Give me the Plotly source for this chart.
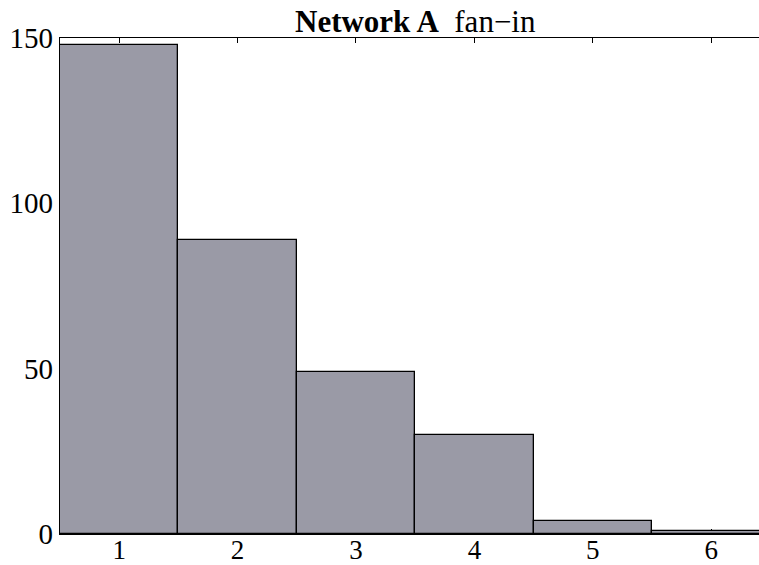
import plotly.graph_objects as go

categories = [1, 2, 3, 4, 5, 6]
counts = [148, 89, 49, 30, 4, 1]
y_ticks = [0, 50, 100, 150]
title_bold = "Network A"
title_rest = "fan\u2212in"

FONT = "Liberation Serif, Times New Roman, serif"
FS = 29

fig = go.Figure()
fig.add_trace(go.Bar(
    x=categories, y=counts, width=1,
    marker=dict(color="#9a9aa6", line=dict(color="black", width=1.3)),
    showlegend=False,
))

fig.update_layout(
    width=759, height=565,
    margin=dict(l=60, r=0, t=38, b=31),
    paper_bgcolor="white", plot_bgcolor="white",
    bargap=0,
    font=dict(family=FONT, size=FS, color="black"),
)
fig.update_xaxes(
    range=[0.5, 6.404], tickmode="array", tickvals=categories,
    ticktext=[str(c) for c in categories],
    ticks="inside", ticklen=5, tickwidth=1, tickcolor="black",
    showline=True, linecolor="black", linewidth=1.3, mirror="ticks",
    showgrid=False, zeroline=False, layer="below traces", automargin=False,
    ticklabelstandoff=-9,
    tickfont=dict(family=FONT, size=27, color="black"),
)
fig.update_yaxes(
    range=[0, 150], tickmode="array", tickvals=y_ticks,
    ticks="inside", ticklen=5, tickwidth=1, tickcolor="black",
    showline=True, linecolor="black", linewidth=1.3, mirror=False,
    showgrid=False, zeroline=False, layer="below traces", automargin=False,
    tickfont=dict(family=FONT, size=FS, color="black"),
)
fig.add_annotation(
    x=3.5, xref="x", y=1, yref="paper", yanchor="bottom", yshift=-3,
    text=f"<b>{title_bold}</b>\u00a0 {title_rest}", showarrow=False,
    font=dict(family=FONT, size=31, color="black"),
)

fig.write_html("out.html")
